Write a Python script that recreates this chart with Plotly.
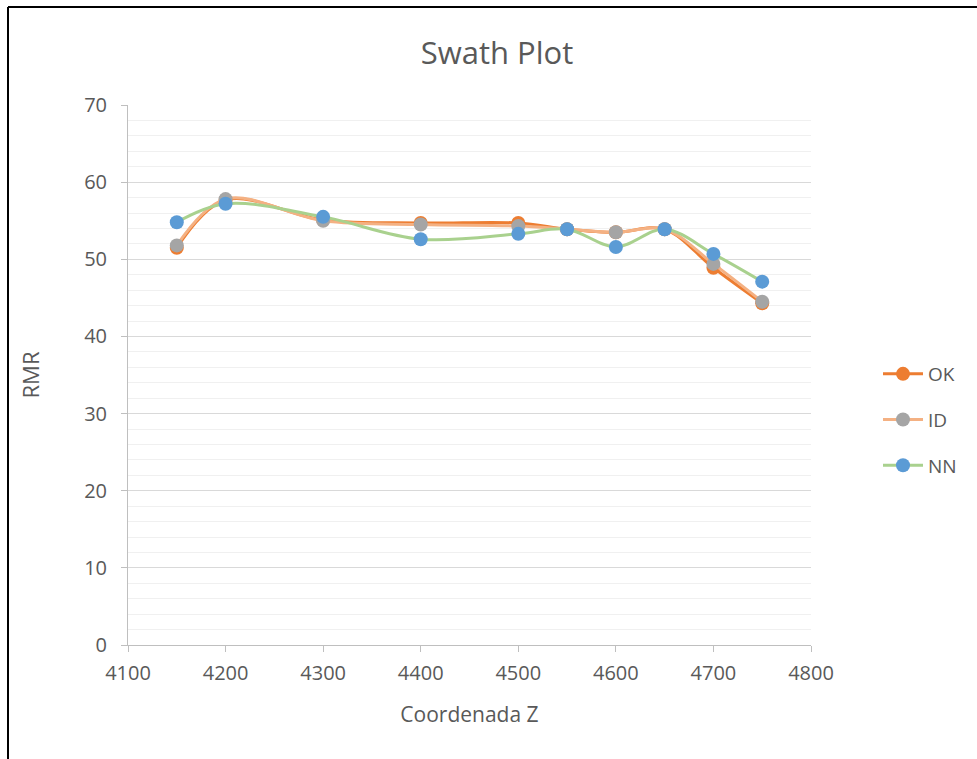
import plotly.graph_objects as go

# Swath plot data: RMR by Z coordinate for three estimators
coord_z = [4150, 4200, 4300, 4400, 4500, 4550, 4600, 4650, 4700, 4750]
rmr_ok = [51.5, 57.7, 55.1, 54.7, 54.7, 53.9, 53.5, 53.9, 48.9, 44.3]
rmr_id = [51.8, 57.8, 55.0, 54.5, 54.3, 53.9, 53.5, 53.9, 49.4, 44.5]
rmr_nn = [54.8, 57.2, 55.5, 52.6, 53.3, 53.9, 51.6, 53.9, 50.7, 47.1]

W, H = 977, 759
L, R, T, B = 128, 811, 105, 645  # plot area in pixels

FONT = "Open Sans"
GREY = "#595959"

fig = go.Figure()

series = [
    ("OK", rmr_ok, "#ED7D31", "#ED7D31"),
    ("ID", rmr_id, "#F4B183", "#A5A5A5"),
    ("NN", rmr_nn, "#A9D18E", "#5B9BD5"),
]
for name, vals, line_c, mark_c in series:
    fig.add_trace(go.Scatter(
        x=coord_z, y=vals, name=name, mode="lines+markers",
        line=dict(color=line_c, width=3, shape="spline", smoothing=1),
        marker=dict(color=mark_c, size=14),
        legendgroup=name,
    ))

def px_x(p):
    return (p - L) / (R - L)

def px_y(p):
    return (B - p) / (B - T)

# outer frame of the chart area
frame = dict(type="line", xref="paper", yref="paper",
             line=dict(color="black", width=2))
fig.add_shape(**frame, x0=px_x(8), x1=px_x(W + 5), y0=px_y(7), y1=px_y(7))
fig.add_shape(**frame, x0=px_x(8), x1=px_x(8), y0=px_y(7), y1=px_y(H + 5))

fig.update_layout(
    width=W, height=H,
    margin=dict(l=L, r=W - R, t=T, b=H - B),
    paper_bgcolor="white", plot_bgcolor="white",
    font=dict(family=FONT, color=GREY, size=19),
    title=dict(text="Swath Plot", x=497 / W, xanchor="center",
               y=1 - 53 / H, yanchor="middle", yref="container",
               font=dict(size=31, color=GREY, family=FONT)),
    showlegend=True,
    legend=dict(x=px_x(878), xanchor="left", y=px_y(420), yanchor="middle",
                traceorder="grouped", tracegroupgap=18,
                font=dict(size=19, color=GREY, family=FONT),
                bgcolor="rgba(0,0,0,0)", itemwidth=40),
    xaxis=dict(
        range=[4100, 4800], dtick=100, tick0=4100,
        showgrid=False, zeroline=False,
        showline=True, linecolor="#BFBFBF", linewidth=1,
        ticks="outside", ticklen=6, tickcolor="#BFBFBF",
        ticklabelstandoff=4,
        tickfont=dict(size=20, color=GREY),
        title=dict(text="Coordenada Z", font=dict(size=21, color=GREY), standoff=22),
    ),
    yaxis=dict(
        range=[0, 70], dtick=10, tick0=0,
        showgrid=True, gridcolor="#D9D9D9", gridwidth=1,
        zeroline=False,
        showline=True, linecolor="#BFBFBF", linewidth=1,
        ticks="outside", ticklen=6, tickcolor="#BFBFBF",
        ticklabelstandoff=10,
        tickfont=dict(size=20, color=GREY),
        minor=dict(dtick=2, showgrid=True, gridcolor="#F0F0F0", gridwidth=1),
        title=dict(text="RMR", font=dict(size=22, color=GREY), standoff=38),
    ),
)

fig.write_html("out.html")
